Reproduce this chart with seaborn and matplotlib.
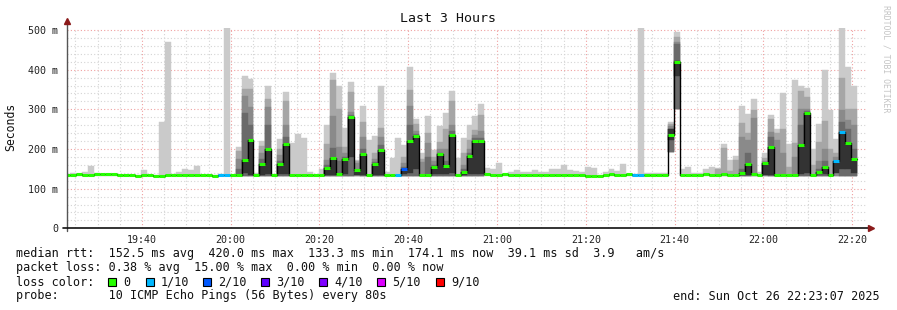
import numpy as np
import pandas as pd
import matplotlib
matplotlib.use("Agg")
import matplotlib.pyplot as plt
import matplotlib.dates as mdates
from matplotlib.patches import Rectangle
from matplotlib.lines import Line2D
from matplotlib.ticker import MultipleLocator, FuncFormatter
import seaborn as sns

# ---------------- data (one entry per 80 s step, ms) ----------------
END_TIME = "2025-10-26 22:23:07"
STEP_SECONDS = 80

median_ms = [
    135, 135, 137, 135, 135, 136, 137, 137, 137, 135,
    135, 135, 133, 135, 135, 133, 133, 135, 135, 135,
    135, 135, 135, 135, 135, 133, 135, 135, 135, 135,
    172, 222, 135, 162, 200, 135, 163, 212, 135, 135,
    135, 135, 135, 135, 151, 177, 136, 175, 280, 147,
    187, 134, 162, 198, 135, 135, 135, 150, 219, 233,
    135, 135, 155, 188, 158, 234, 135, 143, 183, 221,
    219, 137, 135, 135, 137, 135, 135, 135, 135, 135,
    134, 134, 134, 134, 135, 135, 135, 135, 133, 133,
    133, 135, 137, 135, 135, 137, 135, 135, 135, 135,
    135, 135, 236, 420, 135, 135, 135, 135, 137, 135,
    135, 138, 135, 135, 140, 161, 137, 135, 164, 205,
    135, 135, 135, 135, 210, 290, 135, 143, 155, 135,
    170, 242, 216, 174,
]

loss_count = [
    0, 0, 0, 0, 0, 0, 0, 0, 0, 0,
    0, 0, 0, 0, 0, 0, 0, 0, 0, 0,
    0, 0, 0, 0, 0, 0, 1, 1, 0, 0,
    0, 0, 0, 0, 0, 0, 0, 0, 0, 0,
    0, 0, 0, 0, 0, 0, 0, 0, 0, 0,
    0, 0, 0, 0, 0, 0, 1, 2, 0, 0,
    0, 0, 0, 0, 0, 0, 0, 0, 0, 0,
    0, 0, 0, 0, 0, 0, 0, 0, 0, 0,
    0, 0, 0, 0, 0, 0, 0, 0, 0, 0,
    0, 0, 0, 0, 0, 0, 1, 1, 0, 0,
    0, 0, 0, 0, 0, 0, 0, 0, 0, 0,
    0, 0, 0, 0, 0, 0, 0, 0, 0, 0,
    0, 0, 0, 0, 0, 0, 0, 0, 0, 0,
    1, 1, 0, 0,
]

ping_max_ms = [
    135, 140, 137, 142, 158, 140, 138, 137, 137, 135,
    135, 135, 135, 147, 135, 135, 267, 469, 137, 142,
    150, 148, 158, 135, 135, 135, 137, 507, 135, 205,
    385, 376, 140, 221, 360, 137, 225, 344, 215, 238,
    227, 142, 135, 150, 261, 391, 360, 254, 369, 173,
    308, 222, 233, 359, 142, 178, 227, 209, 407, 276,
    189, 282, 198, 257, 291, 347, 178, 227, 261, 284,
    314, 151, 150, 165, 138, 142, 147, 142, 142, 147,
    142, 142, 150, 150, 160, 148, 145, 142, 155, 153,
    135, 142, 150, 145, 162, 137, 137, 507, 140, 140,
    140, 140, 268, 494, 150, 155, 139, 139, 150, 155,
    153, 213, 172, 182, 308, 288, 325, 143, 191, 285,
    251, 342, 213, 375, 360, 354, 200, 264, 398, 299,
    226, 507, 407, 358,
]

band2_top_ms = [
    0, 0, 0, 0, 0, 0, 0, 0, 0, 0,
    0, 0, 0, 0, 0, 0, 0, 0, 0, 0,
    0, 0, 0, 0, 0, 0, 0, 0, 0, 194,
    352, 350, 0, 208, 325, 0, 200, 322, 0, 0,
    0, 0, 0, 0, 213, 374, 300, 206, 344, 170,
    267, 0, 190, 254, 0, 0, 0, 180, 348, 262,
    175, 240, 180, 217, 250, 320, 0, 190, 222, 249,
    285, 0, 0, 0, 0, 0, 0, 0, 0, 0,
    0, 0, 0, 0, 0, 0, 0, 0, 0, 0,
    0, 0, 0, 0, 0, 0, 0, 0, 0, 0,
    0, 0, 262, 483, 0, 0, 0, 0, 0, 0,
    150, 202, 145, 172, 265, 240, 299, 0, 178, 276,
    240, 251, 155, 215, 346, 330, 160, 217, 270, 200,
    190, 380, 300, 302,
]

band3_top_ms = [
    0, 0, 0, 0, 0, 0, 0, 0, 0, 0,
    0, 0, 0, 0, 0, 0, 0, 0, 0, 0,
    0, 0, 0, 0, 0, 0, 0, 0, 0, 175,
    333, 305, 0, 190, 305, 0, 185, 261, 0, 0,
    0, 0, 0, 0, 173, 283, 206, 190, 292, 165,
    229, 0, 175, 230, 0, 0, 0, 165, 309, 245,
    166, 215, 170, 200, 200, 260, 0, 160, 200, 235,
    245, 0, 0, 0, 0, 0, 0, 0, 0, 0,
    0, 0, 0, 0, 0, 0, 0, 0, 0, 0,
    0, 0, 0, 0, 0, 0, 0, 0, 0, 0,
    0, 0, 258, 470, 0, 0, 0, 0, 0, 0,
    0, 0, 0, 0, 230, 223, 278, 0, 170, 244,
    223, 189, 0, 180, 300, 300, 0, 170, 200, 0,
    180, 299, 274, 261,
]

band4_top_ms = [
    0, 0, 0, 0, 0, 0, 0, 0, 0, 0,
    0, 0, 0, 0, 0, 0, 0, 0, 0, 0,
    0, 0, 0, 0, 0, 0, 0, 0, 0, 150,
    290, 260, 0, 175, 260, 0, 170, 230, 0, 0,
    0, 0, 0, 0, 160, 203, 170, 180, 285, 0,
    200, 0, 168, 210, 0, 0, 0, 155, 260, 238,
    0, 180, 160, 190, 170, 245, 0, 150, 190, 228,
    228, 0, 0, 0, 0, 0, 0, 0, 0, 0,
    0, 0, 0, 0, 0, 0, 0, 0, 0, 0,
    0, 0, 0, 0, 0, 0, 0, 0, 0, 0,
    0, 0, 251, 465, 0, 0, 0, 0, 0, 0,
    0, 0, 0, 0, 150, 190, 0, 0, 0, 230,
    0, 0, 0, 0, 260, 295, 0, 150, 170, 0,
    0, 267, 250, 200,
]

smoke_low_ms = [
    133, 133, 133, 133, 133, 133, 133, 133, 133, 133,
    133, 133, 133, 133, 133, 133, 133, 133, 133, 133,
    133, 133, 133, 133, 133, 133, 133, 133, 133, 133,
    133, 133, 133, 133, 133, 133, 133, 133, 133, 133,
    133, 133, 133, 133, 133, 133, 133, 133, 133, 133,
    133, 133, 133, 133, 133, 133, 133, 133, 133, 133,
    133, 133, 133, 133, 133, 133, 133, 133, 133, 133,
    133, 133, 133, 133, 133, 133, 133, 133, 133, 133,
    133, 133, 133, 133, 133, 133, 133, 133, 133, 133,
    133, 133, 133, 133, 133, 133, 133, 133, 133, 133,
    133, 133, 193, 302, 133, 133, 133, 133, 133, 133,
    133, 133, 133, 133, 133, 133, 133, 133, 133, 133,
    133, 133, 133, 133, 133, 133, 133, 133, 133, 133,
    133, 133, 133, 133,
]

dark_low_ms = [
    0, 0, 0, 0, 0, 0, 0, 0, 0, 0,
    0, 0, 0, 0, 0, 0, 0, 0, 0, 0,
    0, 0, 0, 0, 0, 0, 0, 0, 0, 0,
    140, 135, 0, 135, 137, 0, 137, 137, 0, 0,
    0, 0, 0, 0, 135, 135, 0, 137, 181, 135,
    135, 0, 135, 135, 0, 0, 0, 137, 140, 150,
    0, 0, 137, 137, 137, 140, 0, 135, 137, 137,
    137, 0, 0, 0, 0, 0, 0, 0, 0, 0,
    0, 0, 0, 0, 0, 0, 0, 0, 0, 0,
    0, 0, 0, 0, 0, 0, 0, 0, 0, 0,
    0, 0, 223, 385, 0, 0, 0, 0, 0, 0,
    0, 0, 0, 0, 135, 135, 0, 0, 135, 135,
    0, 0, 0, 0, 137, 140, 0, 137, 137, 0,
    140, 150, 150, 140,
]

dark_high_ms = [
    0, 0, 0, 0, 0, 0, 0, 0, 0, 0,
    0, 0, 0, 0, 0, 0, 0, 0, 0, 0,
    0, 0, 0, 0, 0, 0, 0, 0, 0, 0,
    172, 222, 0, 162, 200, 0, 163, 212, 0, 0,
    0, 0, 0, 0, 151, 177, 0, 175, 280, 147,
    187, 0, 162, 198, 0, 0, 0, 150, 219, 233,
    0, 0, 155, 188, 158, 234, 0, 143, 183, 221,
    219, 0, 0, 0, 0, 0, 0, 0, 0, 0,
    0, 0, 0, 0, 0, 0, 0, 0, 0, 0,
    0, 0, 0, 0, 0, 0, 0, 0, 0, 0,
    0, 0, 251, 422, 0, 0, 0, 0, 0, 0,
    0, 0, 0, 0, 140, 161, 0, 0, 164, 205,
    0, 0, 0, 0, 210, 290, 0, 143, 155, 0,
    170, 242, 216, 174,
]

loss_labels = ["0", "1/10", "2/10", "3/10", "4/10", "5/10", "9/10"]
loss_colors = ["#26ff00", "#00b8ff", "#0059ff", "#5e00ff", "#7e00ff", "#dd00ff", "#ff0000"]
loss_color_by_count = {0: "#26ff00", 1: "#00b8ff", 2: "#0059ff", 3: "#5e00ff",
                       4: "#7e00ff", 5: "#dd00ff", 9: "#ff0000"}

legend_lines = [
    "median rtt:  152.5 ms avg  420.0 ms max  133.3 ms min  174.1 ms now  39.1 ms sd  3.9   am/s",
    "packet loss: 0.38 % avg  15.00 % max  0.00 % min  0.00 % now",
    "loss color:",
    "probe:       10 ICMP Echo Pings (56 Bytes) every 80s",
]
end_text = "end: Sun Oct 26 22:23:07 2025"
title_text = "Last 3 Hours"
ylabel_text = "Seconds"
watermark = "RRDTOOL / TOBI OETIKER"

# ---------------- style ----------------
sns.set_style("white")
plt.rcParams["font.family"] = ["DejaVu Sans Mono", "DejaVu Sans"]

W, H = 897, 310
fig = plt.figure(figsize=(W / 100, H / 100), dpi=100)
fig.patch.set_facecolor("white")
ax_left, ax_right, ax_top, ax_bot = 67, 866, 28, 228.3
ax = fig.add_axes([ax_left / W, 1 - ax_bot / H, (ax_right - ax_left) / W, (ax_bot - ax_top) / H])
ax.set_facecolor("white")

end = pd.Timestamp(END_TIME)
start = end - pd.Timedelta(hours=3)
n = len(median_ms)
edges = pd.date_range(start=start - pd.Timedelta(seconds=40), periods=n, freq=f"{STEP_SECONDS}s")
x_left = mdates.date2num(edges.to_pydatetime())
step_days = STEP_SECONDS / 86400.0

low = np.array(smoke_low_ms, float)
band_specs = [
    (np.array(ping_max_ms, float), low, "#cacaca"),
    (np.array(band2_top_ms, float), low, "#a6a6a6"),
    (np.array(band3_top_ms, float), low, "#8a8a8a"),
    (np.array(band4_top_ms, float), low, "#6a6a6a"),
    (np.array(dark_high_ms, float), np.array(dark_low_ms, float), "#333333"),
]
for z, (top, bot, col) in enumerate(band_specs):
    m = top > 0
    ax.bar(x_left[m], (top - bot)[m], bottom=bot[m], width=step_days, align="edge",
           color=col, edgecolor=col, linewidth=0.3, zorder=2 + z * 0.1)

# black step line through the medians
xs = np.append(x_left, x_left[-1] + step_days)
ys = np.append(np.array(median_ms, float), median_ms[-1])
sns.lineplot(x=xs, y=ys, drawstyle="steps-post", estimator=None, sort=False,
             color="black", linewidth=1.0, ax=ax, zorder=4)

# loss-coloured median markers
mcols = [loss_color_by_count[c] for c in loss_count]
ax.hlines(median_ms, x_left, x_left + step_days, colors=mcols, linewidth=2.2, zorder=5)

# axes limits / grid
ax.set_xlim(mdates.date2num(start.to_pydatetime()), mdates.date2num(end.to_pydatetime()))
ax.set_ylim(0, 505)
ax.set_xlabel("")
ax.set_ylabel("")

ax.xaxis.set_major_locator(mdates.MinuteLocator(byminute=[0, 20, 40]))
ax.xaxis.set_minor_locator(mdates.MinuteLocator(byminute=range(0, 60, 5)))
ax.xaxis.set_major_formatter(mdates.DateFormatter("%H:%M"))
ax.yaxis.set_major_locator(MultipleLocator(100))
ax.yaxis.set_minor_locator(MultipleLocator(20))
ax.yaxis.set_major_formatter(FuncFormatter(lambda v, p: "0" if v == 0 else f"{int(v)} m"))

ax.grid(which="minor", color="#d4d4d4", linestyle=(0, (1, 2)), linewidth=0.8, zorder=0)
ax.grid(which="major", color="#f0a0a0", linestyle=(0, (1, 2)), linewidth=0.8, zorder=0)
ax.set_axisbelow(True)

ax.tick_params(axis="both", which="major", labelsize=7.2, colors="#222222", length=3,
               direction="inout", width=0.8)
ax.tick_params(axis="both", which="minor", length=2, direction="inout", width=0.6, colors="#888888")
ax.tick_params(axis="x", which="major", pad=3, color="#e06060")
ax.tick_params(axis="y", which="major", pad=5, color="#e06060")

for s in ["top", "right", "left", "bottom"]:
    ax.spines[s].set_visible(False)
# rrdtool-style axis lines with arrows
ax.add_line(Line2D([0, 0], [-0.015, 1.03], transform=ax.transAxes, color="#555555",
                   linewidth=1.0, clip_on=False, zorder=6))
ax.add_line(Line2D([-0.005, 1.004], [0, 0], transform=ax.transAxes, color="#111111",
                   linewidth=1.2, clip_on=False, zorder=6))
ax.plot([0], [1.035], marker="^", markersize=4, color="#8b1a1a", transform=ax.transAxes,
        clip_on=False, zorder=7)
ax.plot([1.006], [0], marker=">", markersize=4, color="#8b1a1a", transform=ax.transAxes,
        clip_on=False, zorder=7)

# ---------------- texts ----------------
def fy(py):
    return 1 - py / H

fig.text(448 / W, fy(19), title_text, ha="center", va="center", fontsize=9.5, color="#111111")
fig.text(11 / W, fy(127), ylabel_text, ha="center", va="center", rotation=90, fontsize=8.3,
         color="#111111")
fig.text(886 / W, fy(59), watermark, ha="center", va="center", rotation=270, fontsize=5.9,
         color="#c4c4c4")

line_y = [254, 268, 282, 296]
for txt, yy in zip(legend_lines, line_y):
    fig.text(16 / W, fy(yy), txt, ha="left", va="center", fontsize=8.5, color="#111111")
fig.text(880 / W, fy(296), end_text, ha="right", va="center", fontsize=8.5, color="#111111")

square_x = [108, 146, 203, 261, 319, 377, 436]
for sx, lab, col in zip(square_x, loss_labels, loss_colors):
    fig.add_artist(Rectangle((sx / W, fy(286)), 8 / W, 8 / H, transform=fig.transFigure,
                             facecolor=col, edgecolor="black", linewidth=0.8))
    fig.text((sx + 15) / W, fy(282), lab, ha="left", va="center", fontsize=8.5, color="#111111")

fig.savefig("out.png", dpi=100, facecolor="white")
